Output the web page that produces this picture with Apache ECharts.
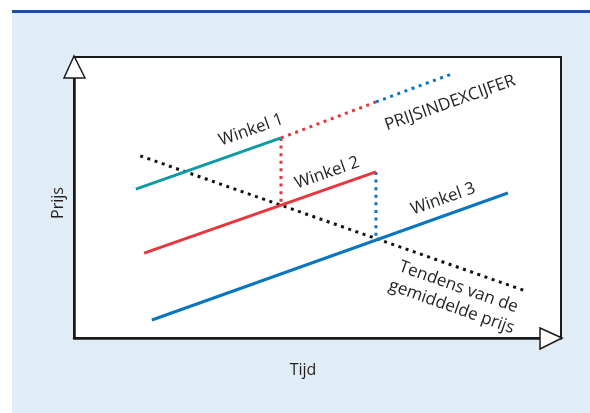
<!DOCTYPE html>
<html><head><meta charset="utf-8">
<script src="https://cdn.jsdelivr.net/npm/echarts@6/dist/echarts.min.js"></script>
<style>
html,body{margin:0;padding:0;background:#fff;}
#bg{position:absolute;left:12px;top:12px;width:578px;height:401px;background:#e0edf6;}
#topline{position:absolute;left:12px;top:10px;width:578px;height:3px;background:#1d5292;}
#c{position:absolute;left:0;top:0;width:590px;height:413px;}
</style></head>
<body>
<div id="bg"></div><div id="topline"></div>
<div id="c"></div>
<script>
// Conceptual data (Tijd 0-100, Prijs 0-100)
const winkel1 = [[12.7, 53.0], [42.5, 71.2]];
const winkel2 = [[14.4, 30.2], [62.0, 59.1]];
const winkel3 = [[16.0, 6.4], [89.1, 51.6]];
const tendens = [[13.6, 64.8], [92.8, 16.7]];
const indexRed = [[42.5, 71.2], [62.0, 84.0]];
const indexBlue = [[62.0, 84.0], [77.6, 94.0]];
const dropRed = [[42.5, 71.2], [42.5, 47.7]];
const dropBlue = [[62.0, 59.1], [62.0, 35.6]];

const TEAL = '#0e9aa5', RED = '#e8363c', BLUE = '#0a76c2', TXT = '#231f20';
const FONT = '"Open Sans", "Noto Sans", sans-serif';

function solid(data, color) {
  return { type: 'line', data, symbol: 'none', silent: true,
    lineStyle: { color, width: 3, cap: 'butt' }, z: 3 };
}
function dotted(data, color, z) {
  return { type: 'line', data, symbol: 'none', silent: true,
    lineStyle: { color, width: 3, type: [3, 4.6], cap: 'butt' }, z: z || 2 };
}

const chart = echarts.init(document.getElementById('c'), null, { renderer: 'canvas' });
chart.setOption({
  animation: false,
  grid: { left: 74, top: 57, right: 29, bottom: 75, show: true,
    backgroundColor: '#ffffff', borderColor: '#1a1a1a', borderWidth: 2 },
  xAxis: { type: 'value', min: 0, max: 100, axisLabel: { show: false },
    axisTick: { show: false }, splitLine: { show: false },
    axisLine: { show: true, lineStyle: { color: '#1a1a1a', width: 2.5 } } },
  yAxis: { type: 'value', min: 0, max: 100, axisLabel: { show: false },
    axisTick: { show: false }, splitLine: { show: false },
    axisLine: { show: true, lineStyle: { color: '#1a1a1a', width: 2.5 } } },
  series: [
    dotted(tendens, '#111111', 2),
    dotted(dropRed, RED, 2),
    dotted(dropBlue, BLUE, 2),
    dotted(indexRed, RED, 2),
    dotted(indexBlue, BLUE, 2),
    solid(winkel1, TEAL),
    solid(winkel2, RED),
    solid(winkel3, BLUE)
  ],
  graphic: [
    { type: 'polygon', shape: { points: [[74, 56], [64, 78], [85, 78]] },
      style: { fill: '#fff', stroke: '#1a1a1a', lineWidth: 1.5 }, z: 100 },
    { type: 'polygon', shape: { points: [[562, 338], [540, 328], [540, 349]] },
      style: { fill: '#fff', stroke: '#1a1a1a', lineWidth: 1.5 }, z: 100 },
    { type: 'text', x: 251, y: 130, rotation: 0.34,
      style: { text: 'Winkel 1', font: '17px ' + FONT, fill: TXT, align: 'center', verticalAlign: 'middle' }, z: 100 },
    { type: 'text', x: 327, y: 173, rotation: 0.34,
      style: { text: 'Winkel 2', font: '17px ' + FONT, fill: TXT, align: 'center', verticalAlign: 'middle' }, z: 100 },
    { type: 'text', x: 443, y: 199, rotation: 0.34,
      style: { text: 'Winkel 3', font: '17px ' + FONT, fill: TXT, align: 'center', verticalAlign: 'middle' }, z: 100 },
    { type: 'text', x: 450, y: 103, rotation: 0.34,
      style: { text: 'PRIJSINDEXCIJFER', font: '17px ' + FONT, fill: TXT, align: 'center', verticalAlign: 'middle' }, z: 100 },
    { type: 'text', x: 455, y: 297, rotation: -0.34,
      style: { text: 'Tendens van de\ngemiddelde prijs', font: '17px ' + FONT, lineHeight: 21, fill: TXT, align: 'center', verticalAlign: 'middle' }, z: 100 },
    { type: 'text', x: 58, y: 203, rotation: Math.PI / 2,
      style: { text: 'Prijs', font: '16px ' + FONT, fill: TXT, align: 'center', verticalAlign: 'middle' }, z: 100 },
    { type: 'text', x: 303, y: 370,
      style: { text: 'Tijd', font: '16px ' + FONT, fill: TXT, align: 'center', verticalAlign: 'middle' }, z: 100 }
  ]
});
</script>
</body></html>
